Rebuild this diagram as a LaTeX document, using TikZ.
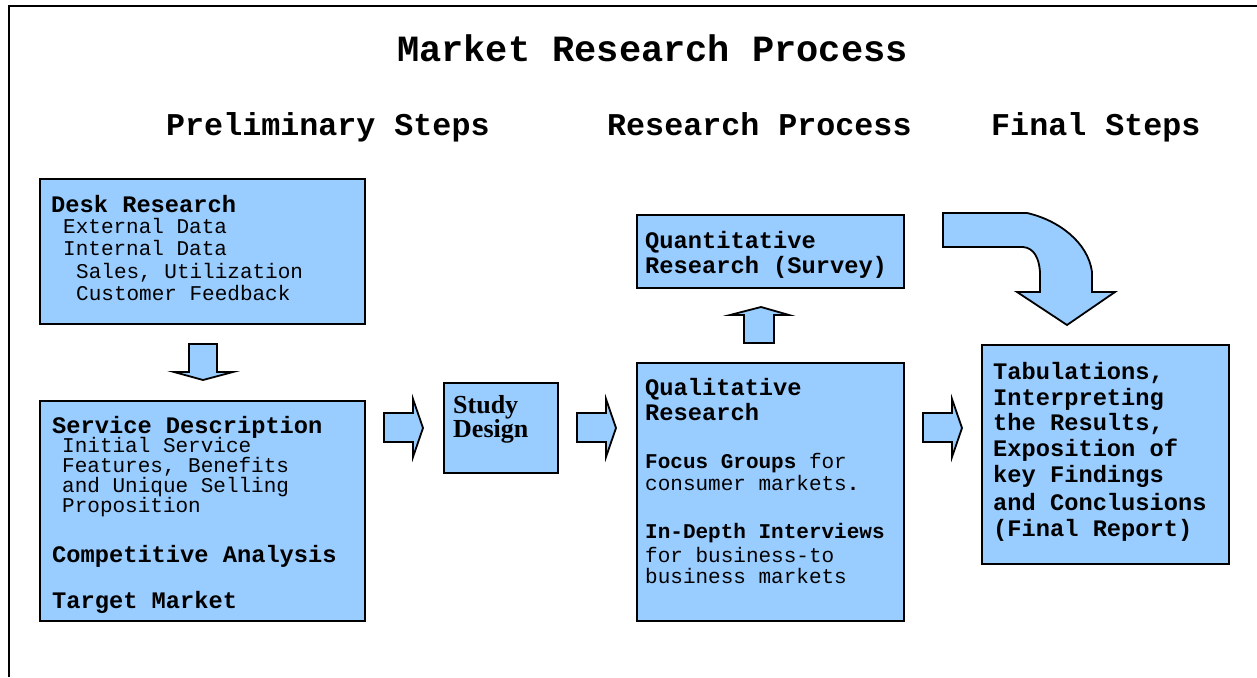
\documentclass[tikz,border=0pt]{standalone}
\usepackage{fontspec}
\setmonofont{Liberation Mono}
\newfontfamily\serifbf{Liberation Serif}
\definecolor{boxblue}{RGB}{153,204,255}
\tikzset{
 box/.style={draw=black, line width=2pt, fill=boxblue, inner sep=0pt, anchor=north west},
 blockarrow/.style={draw=black, line width=1.8pt, fill=boxblue, line join=miter},
 lbl/.style={anchor=base west, inner sep=0pt},
 hb/.style={lbl, font=\ttfamily\bfseries\fontsize{23.7pt}{24pt}\selectfont},
 rg/.style={lbl, font=\ttfamily\fontsize{21pt}{21pt}\selectfont},
 sb/.style={lbl, font=\ttfamily\bfseries\fontsize{21pt}{21pt}\selectfont},
 hd/.style={lbl, font=\ttfamily\bfseries\fontsize{31.7pt}{32pt}\selectfont},
 sd/.style={lbl, font=\serifbf\bfseries\fontsize{26pt}{26pt}\selectfont},
}
\begin{document}
\begin{tikzpicture}[x=1pt,y=-1pt]
\useasboundingbox (0,0) rectangle (1257,677);
\draw[line width=2pt] (9,677) -- (9,6) -- (1257,6);

% title and headers
\node[anchor=base, inner sep=0pt, font=\ttfamily\bfseries\fontsize{37pt}{37pt}\selectfont] (title) at (652.5,62) {Market Research Process};
\node[hd] (h1) at (166,135) {Preliminary Steps};
\node[hd] (h2) at (607,135) {Research Process};
\node[hd] (h3) at (991,135) {Final Steps};

% boxes
\node[box, minimum width=325pt, minimum height=145pt] (desk) at (39,178) {};
\node[box, minimum width=325pt, minimum height=220pt] (serv) at (39,400) {};
\node[box, minimum width=114pt, minimum height=90pt] (study) at (443,382) {};
\node[box, minimum width=267pt, minimum height=73pt] (quant) at (636,214) {};
\node[box, minimum width=267pt, minimum height=258pt] (qual) at (636,362) {};
\node[box, minimum width=247pt, minimum height=219pt] (tab) at (981,344) {};

% block arrows
\draw[blockarrow] (189,344) -- (217,344) -- (217,372) -- (233,372) -- (203,380) -- (174,372) -- (189,372) -- cycle;
\draw[blockarrow] (744,343) -- (744,315) -- (730,315) -- (761,307) -- (789,315) -- (774,315) -- (774,343) -- cycle;
\foreach \x in {384,577,923}{
 \draw[blockarrow] (\x,413) -- (\x+29,413) -- (\x+29,399) -- (\x+39,428) -- (\x+29,457) -- (\x+29,442) -- (\x,442) -- cycle;
}
\draw[blockarrow] (943,213) -- (1027,213) .. controls (1058,220) and (1088,242) .. (1092,272) -- (1092,292) -- (1115,292) -- (1067,325) -- (1017,292) -- (1040,292) -- (1040,272) .. controls (1039,258) and (1034,248) .. (1023,247) -- (943,247) -- cycle;

% desk research text
\node[hb] (d0) at (51,212) {Desk Research};
\node[rg] (d1) at (63,233) {External Data};
\node[rg] (d2) at (63,255) {Internal Data};
\node[rg] (d3) at (76,278) {Sales, Utilization};
\node[rg] (d4) at (76,300) {Customer Feedback};

% service description text
\node[hb] (s0) at (52,433) {Service Description};
\node[rg] (s1) at (62,452) {Initial Service};
\node[rg] (s2) at (62,472) {Features, Benefits};
\node[rg] (s3) at (62,492) {and Unique Selling};
\node[rg] (s4) at (62,512) {Proposition};
\node[hb] (s5) at (52,562) {Competitive Analysis};
\node[hb] (s6) at (52,608) {Target Market};

% study design
\node[sd] (sd1) at (453,413) {Study};
\node[sd] (sd2) at (453,437) {Design};

% quantitative
\node[hb] (q1) at (645,248) {Quantitative};
\node[hb] (q2) at (645,273) {Research (Survey)};

% qualitative
\node[hb] (l1) at (645,395) {Qualitative};
\node[hb] (l2) at (645,420) {Research};
\node[rg] (l3) at (645,468) {{\bfseries Focus Groups} for};
\node[rg] (l4) at (645,490) {consumer markets{\bfseries .}};
\node[sb] (l5) at (645,538) {In-Depth Interviews};
\node[rg] (l6) at (645,562) {for business-to};
\node[rg] (l7) at (645,583) {business markets};

% final steps
\node[hb] (t1) at (993,379) {Tabulations,};
\node[hb] (t2) at (993,405) {Interpreting};
\node[hb] (t3) at (993,430) {the Results,};
\node[hb] (t4) at (993,456) {Exposition of};
\node[hb] (t5) at (993,482) {key Findings};
\node[hb] (t6) at (993,510) {and Conclusions};
\node[hb] (t7) at (993,536) {(Final Report)};
\end{tikzpicture}
\end{document}
